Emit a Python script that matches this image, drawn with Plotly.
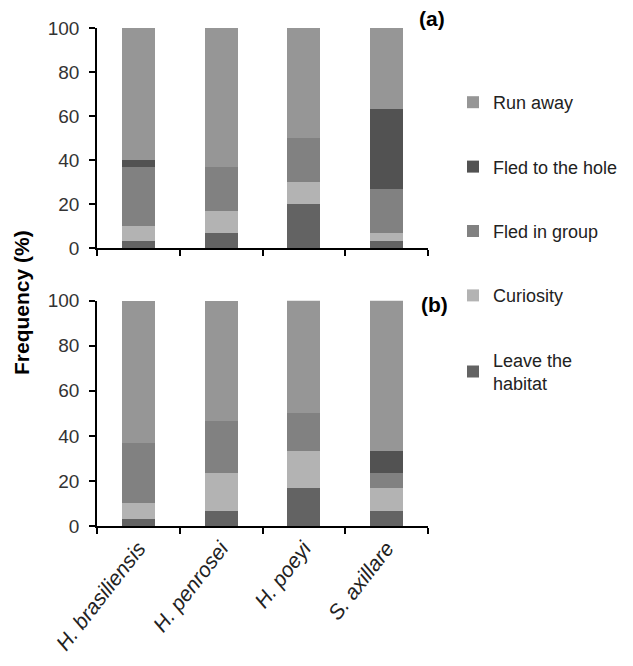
import plotly.graph_objects as go

species = ["H. brasiliensis", "H. penrosei", "H. poeyi", "S. axillare"]
legend_labels = ["Leave the<br>habitat", "Curiosity", "Fled in group", "Fled to the hole", "Run away"]
legend_ranks = [5, 4, 3, 2, 1]
colors = ["#636363", "#b3b3b3", "#818181", "#525252", "#969696"]

# panel (a) frequencies (%)
a_leave = [3.3, 6.7, 20.0, 3.3]
a_curiosity = [6.7, 10.0, 10.0, 3.3]
a_group = [26.7, 20.0, 20.0, 20.0]
a_hole = [3.3, 0.0, 0.0, 36.7]
a_run = [60.0, 63.3, 50.0, 36.7]

# panel (b) frequencies (%)
b_leave = [3.3, 6.7, 16.7, 6.7]
b_curiosity = [6.7, 16.7, 16.7, 10.0]
b_group = [26.7, 23.3, 16.7, 6.7]
b_hole = [0.0, 0.0, 0.0, 10.0]
b_run = [63.3, 53.3, 50.0, 66.7]

panel_a = [a_leave, a_curiosity, a_group, a_hole, a_run]
panel_b = [b_leave, b_curiosity, b_group, b_hole, b_run]

W, H = 633, 666
FONT = "Liberation Sans, Arial, sans-serif"
OFF = 8  # default page body margin

# plot area in pixels (page coordinates minus body margin)
L, R, T, B = 97 - OFF, 428 - OFF, 28 - OFF, 526 - OFF
PW, PH = R - L, B - T

fig = go.Figure()
for i, (lab, col) in enumerate(zip(legend_labels, colors)):
    fig.add_trace(go.Bar(x=species, y=panel_a[i], name=lab, marker=dict(color=col, line=dict(width=0)),
                         xaxis="x", yaxis="y", showlegend=False, legendgroup=str(i),
                         legendrank=legend_ranks[i]))
    fig.add_trace(go.Bar(x=species, y=panel_b[i], name=lab, marker=dict(color=col, line=dict(width=0)),
                         xaxis="x2", yaxis="y2", showlegend=True, legendgroup=str(i),
                         legendrank=legend_ranks[i]))

ya = [(B - (248 - OFF)) / PH, 1.0]
yb = [0.0, (B - (300.7 - OFF)) / PH]

axis_common = dict(showline=True, linecolor="black", linewidth=1.5, ticks="outside",
                   ticklen=6, tickwidth=1.5, tickcolor="black", showgrid=False, zeroline=False,
                   automargin=False,
                   tickfont=dict(family=FONT, size=19, color="#333333"))


def px(xp):
    return (xp - OFF - L) / PW


def py(yp):
    return (B - (yp - OFF)) / PH


fig.update_layout(
    width=W, height=H, margin=dict(l=L, r=W - R, t=T, b=H - B, autoexpand=False),
    paper_bgcolor="white", plot_bgcolor="white",
    barmode="stack", bargap=0.6,
    font=dict(family=FONT, size=19, color="#222222"),
    xaxis=dict(domain=[0, 1], anchor="y", type="category", tickson="boundaries",
               showticklabels=False, range=[-0.5, 3.5], **axis_common),
    yaxis=dict(domain=ya, anchor="x", range=[0, 100], tickvals=[0, 20, 40, 60, 80, 100],
               ticklabelstandoff=6, **axis_common),
    xaxis2=dict(domain=[0, 1], anchor="y2", type="category", tickson="boundaries",
                tickangle=-52, range=[-0.5, 3.5],
                **{**axis_common, "tickfont": dict(family=FONT, size=21, color="#222222", style="italic")}),
    yaxis2=dict(domain=yb, anchor="x2", range=[0, 100], tickvals=[0, 20, 40, 60, 80, 100],
                ticklabelstandoff=6, **axis_common),
    legend=dict(x=px(453), y=py(84), xanchor="left", yanchor="top",
                traceorder="grouped", tracegroupgap=38,
                font=dict(family=FONT, size=18, color="#222222"), bgcolor="rgba(0,0,0,0)"),
    annotations=[
        dict(text="<b>Frequency (%)</b>", x=px(21), y=py(303), xref="paper", yref="paper",
             xanchor="center", yanchor="middle",
             textangle=-90, showarrow=False, font=dict(family=FONT, size=21, color="black")),
        dict(text="<b>(a)</b>", x=px(432), y=py(19), xref="paper", yref="paper",
             xanchor="center", yanchor="middle",
             showarrow=False, font=dict(family=FONT, size=21, color="black")),
        dict(text="<b>(b)</b>", x=px(434), y=py(304), xref="paper", yref="paper",
             xanchor="center", yanchor="middle",
             showarrow=False, font=dict(family=FONT, size=21, color="black")),
    ],
)

fig.write_html("out.html")
